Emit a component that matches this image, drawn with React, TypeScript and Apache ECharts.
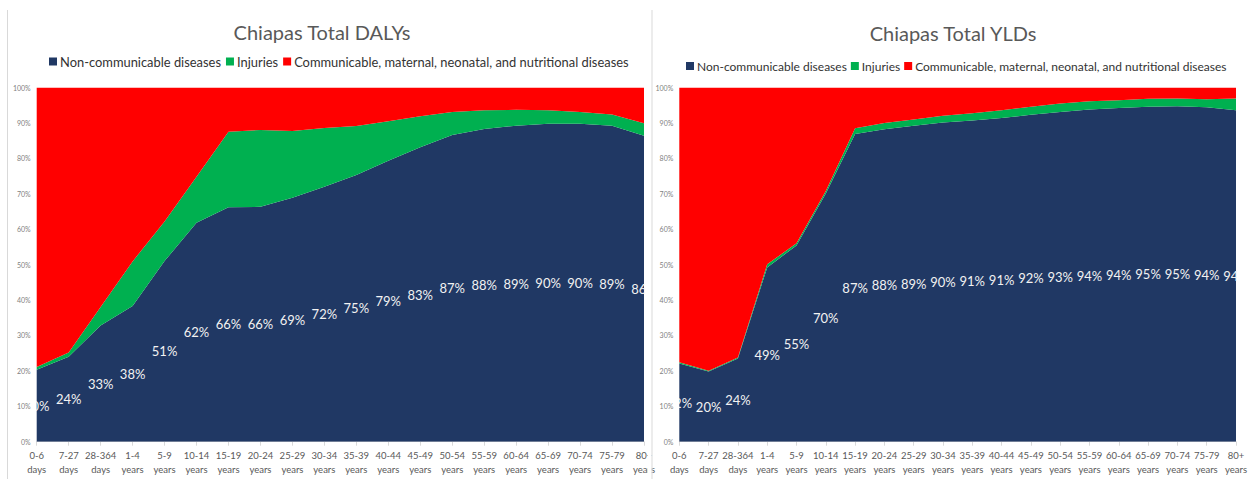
import React, { useEffect, useRef } from "react";
import * as echarts from "echarts";

const categories = [
  "0-6\ndays", "7-27\ndays", "28-364\ndays", "1-4\nyears", "5-9\nyears",
  "10-14\nyears", "15-19\nyears", "20-24\nyears", "25-29\nyears", "30-34\nyears",
  "35-39\nyears", "40-44\nyears", "45-49\nyears", "50-54\nyears", "55-59\nyears",
  "60-64\nyears", "65-69\nyears", "70-74\nyears", "75-79\nyears", "80+\nyears",
];

const seriesNames = [
  "Non-communicable diseases",
  "Injuries",
  "Communicable, maternal, neonatal, and nutritional diseases",
];

// Chiapas Total DALYs (% share)
const dalyNcd = [20.3, 24, 32.8, 38.3, 51, 61.8, 66.2, 66.3, 68.9, 72, 75.3, 79.3, 83.1, 86.6, 88.3, 89.2, 89.8, 89.8, 89.2, 86.4];
const dalyInj = [0.8, 1.2, 5.2, 12.6, 11.2, 13.0, 21.3, 21.7, 18.8, 16.6, 13.8, 11.2, 8.8, 6.5, 5.3, 4.5, 3.8, 3.3, 3.2, 3.5];
const dalyCom = [78.9, 74.8, 62, 49.1, 37.8, 25.2, 12.5, 12, 12.3, 11.4, 10.9, 9.5, 8.1, 6.9, 6.4, 6.3, 6.4, 6.9, 7.6, 10.1];

// Chiapas Total YLDs (% share)
const yldNcd = [22.1, 19.8, 23.5, 49.2, 55.4, 70.1, 86.9, 88.2, 89.2, 90.1, 90.7, 91.4, 92.3, 93.1, 93.8, 94.2, 94.6, 94.7, 94.4, 93.6];
const yldInj = [0.3, 0.2, 0.3, 0.9, 0.6, 0.7, 1.6, 1.8, 1.8, 1.9, 2.0, 2.2, 2.3, 2.4, 2.3, 2.2, 2.2, 2.2, 2.3, 3.3];
const yldCom = [77.6, 80.0, 76.2, 49.9, 44.0, 29.2, 11.5, 10.0, 9.0, 8.0, 7.3, 6.4, 5.4, 4.5, 3.9, 3.6, 3.2, 3.1, 3.3, 3.1];

const titles = ["Chiapas Total DALYs", "Chiapas Total YLDs"];
const yTicks = [0, 10, 20, 30, 40, 50, 60, 70, 80, 90, 100];

const COLORS = ["#203864", "#00b050", "#ff0000"];
const FONT = "Lato, 'Open Sans', sans-serif";

function areaSeries(name: string, data: number[], color: string, idx: number, stack: string) {
  return {
    name,
    type: "line",
    stack,
    xAxisIndex: idx,
    yAxisIndex: idx,
    data,
    symbol: "none",
    smooth: false,
    lineStyle: { width: 0, color },
    itemStyle: { color },
    areaStyle: { color, opacity: 1 },
    emphasis: { disabled: true },
  };
}

function labelSeries(data: number[], idx: number) {
  return {
    type: "custom",
    xAxisIndex: idx,
    yAxisIndex: idx,
    clip: true,
    silent: true,
    z: 10,
    data: data.map((v, i) => [i, v]),
    renderItem: (_p: any, api: any) => {
      const i = api.value(0);
      const v = api.value(1);
      const pt = api.coord([i, v / 2]);
      return {
        type: "text",
        x: pt[0],
        y: pt[1],
        style: {
          text: Math.round(v) + "%",
          fill: "#f2f2f2",
          fontSize: 13,
          fontFamily: FONT,
          align: "center",
          verticalAlign: "middle",
        },
      };
    },
  };
}

export default function App() {
  const ref = useRef<HTMLDivElement>(null);

  useEffect(() => {
    if (!ref.current) return;
    const chart = echarts.init(ref.current, null, { renderer: "svg" });

    const grids = [
      { left: 36.7, top: 87.5, width: 607.3, height: 354.2 },
      { left: 679.3, top: 87.5, width: 557.7, height: 354.2 },
    ];

    const xAxes = grids.map((_, i) => ({
      type: "category",
      gridIndex: i,
      data: categories,
      boundaryGap: false,
      axisLine: { show: true, lineStyle: { color: "#d9d9d9", width: 1 } },
      axisTick: { show: true, length: 4, lineStyle: { color: "#d9d9d9" } },
      axisLabel: {
        interval: 0,
        color: "#595959",
        fontSize: 9.5,
        lineHeight: 14,
        margin: 7,
        fontFamily: FONT,
      },
    }));

    const yAxes = grids.map((_, i) => ({
      type: "value",
      gridIndex: i,
      min: 0,
      max: 100,
      interval: 10,
      axisLine: { show: false },
      axisTick: { show: false },
      splitLine: { show: false },
      axisLabel: {
        color: "#7f7f7f",
        fontSize: 7,
        margin: 6,
        fontFamily: FONT,
        formatter: (v: number) => (yTicks.includes(v) ? v + "%" : ""),
      },
    }));

    const option: any = {
      animation: false,
      backgroundColor: "#ffffff",
      title: [
        {
          text: titles[0],
          left: 322,
          top: 22,
          textAlign: "center",
          padding: 0,
          textStyle: { color: "#595959", fontSize: 20, fontWeight: "normal", fontFamily: FONT },
        },
        {
          text: titles[1],
          left: 953,
          top: 23,
          textAlign: "center",
          padding: 0,
          textStyle: { color: "#595959", fontSize: 20, fontWeight: "normal", fontFamily: FONT },
        },
      ],
      legend: [
        {
          data: seriesNames,
          left: 49,
          top: 55,
          padding: 0,
          icon: "rect",
          itemWidth: 8,
          itemHeight: 8,
          itemGap: 5,
          selectedMode: false,
          textStyle: { color: "#333333", fontSize: 12.9, fontFamily: FONT, padding: [0, 0, 0, -2] },
        },
        {
          data: seriesNames,
          left: 686,
          top: 60,
          padding: 0,
          icon: "rect",
          itemWidth: 8,
          itemHeight: 8,
          itemGap: 4,
          selectedMode: false,
          textStyle: { color: "#333333", fontSize: 12, fontFamily: FONT, padding: [0, 0, 0, -2] },
        },
      ],
      grid: grids,
      xAxis: xAxes,
      yAxis: yAxes,
      series: [
        areaSeries(seriesNames[0], dalyNcd, COLORS[0], 0, "daly"),
        areaSeries(seriesNames[1], dalyInj, COLORS[1], 0, "daly"),
        areaSeries(seriesNames[2], dalyCom, COLORS[2], 0, "daly"),
        labelSeries(dalyNcd, 0),
        areaSeries(seriesNames[0], yldNcd, COLORS[0], 1, "yld"),
        areaSeries(seriesNames[1], yldInj, COLORS[1], 1, "yld"),
        areaSeries(seriesNames[2], yldCom, COLORS[2], 1, "yld"),
        labelSeries(yldNcd, 1),
      ],
      graphic: [
        { type: "rect", shape: { x: 648, y: 440, width: 3.5, height: 39 }, style: { fill: "#ffffff" }, z: 100 },
        { type: "line", shape: { x1: 7.5, y1: 10, x2: 7.5, y2: 479 }, style: { stroke: "#d9d9d9", lineWidth: 1 }, z: 100 },
        { type: "line", shape: { x1: 652, y1: 10, x2: 652, y2: 479 }, style: { stroke: "#d9d9d9", lineWidth: 1 }, z: 100 },
      ],
    };

    chart.setOption(option);
    return () => chart.dispose();
  }, []);

  return (
    <div
      ref={ref}
      style={{ position: "absolute", left: 0, top: 0, width: 1250, height: 479, background: "#fff" }}
    />
  );
}
